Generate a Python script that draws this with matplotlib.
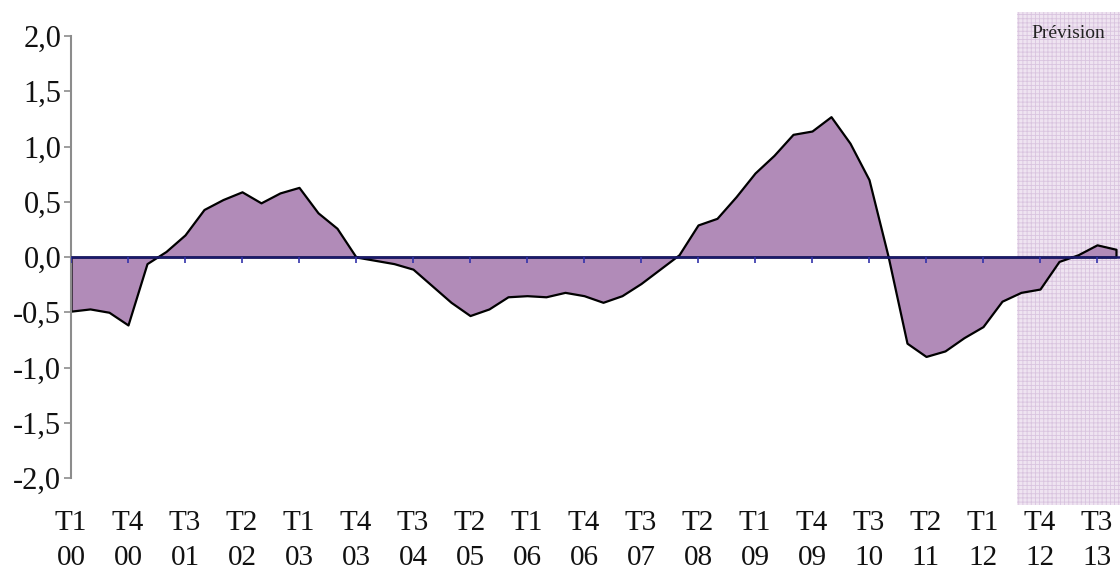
import matplotlib
matplotlib.use("Agg")
import matplotlib.pyplot as plt
from matplotlib.patches import Rectangle
import numpy as np

plt.rcParams['font.family'] = ['Liberation Serif', 'DejaVu Serif']
plt.rcParams['hatch.linewidth'] = 0.6

values = [-0.49, -0.47, -0.50, -0.615, -0.06, 0.05, 0.20, 0.43, 0.52, 0.59,
          0.49, 0.58, 0.63, 0.40, 0.26, 0.0, -0.03, -0.06, -0.11, -0.26,
          -0.41, -0.53, -0.47, -0.36, -0.35, -0.36, -0.32, -0.35, -0.41, -0.35,
          -0.24, -0.11, 0.02, 0.29, 0.35, 0.545, 0.76, 0.92, 1.11, 1.14,
          1.27, 1.03, 0.70, 0.01, -0.78, -0.90, -0.85, -0.73, -0.63, -0.40,
          -0.32, -0.29, -0.04, 0.02, 0.11, 0.07]
tick_labels = ["T1\n00", "T4\n00", "T3\n01", "T2\n02", "T1\n03", "T4\n03", "T3\n04",
               "T2\n05", "T1\n06", "T4\n06", "T3\n07", "T2\n08", "T1\n09", "T4\n09",
               "T3\n10", "T2\n11", "T1\n12", "T4\n12", "T3\n13"]
y_ticks = [-2.0, -1.5, -1.0, -0.5, 0.0, 0.5, 1.0, 1.5, 2.0]
forecast_start = 49.8
forecast_label = "Prévision"

x = np.arange(len(values))
tick_pos = np.arange(0, len(values), 3)[:len(tick_labels)]

W, H = 1120, 569
fig = plt.figure(figsize=(W / 100, H / 100), dpi=100)
ax = fig.add_axes([71 / W, (H - 478) / H, (W - 71) / W, 442 / H])
xmax = (W - 71) / 19.0
ax.set_xlim(0, xmax)
ax.set_ylim(-2, 2)

# forecast shading (extends beyond axes)
rect = Rectangle((forecast_start, -2.244), xmax - forecast_start, 2.217 + 2.244,
                 facecolor='#efe4f1', edgecolor='#d9c4df', hatch='++++', linewidth=0,
                 clip_on=False, zorder=0)
ax.add_patch(rect)
ax.text((forecast_start + xmax) / 2, 2.02, forecast_label, ha='center', va='center',
        fontsize=14, color='#222222', zorder=1)

ax.fill_between(x, values, 0, facecolor='#b18bb8', edgecolor='black', linewidth=1.6,
                zorder=2)
ax.axhline(0, color='#1a1a6e', linewidth=1.8, zorder=3)
ax.vlines(tick_pos, -0.055, 0, color='#3333aa', linewidth=1.2, zorder=3)

for s in ['top', 'right', 'bottom']:
    ax.spines[s].set_visible(False)
ax.spines['left'].set_color('#8c8c8c')
ax.spines['left'].set_linewidth(1.5)

ax.set_yticks(y_ticks)
ax.set_yticklabels([f"{v:.1f}".replace('.', ',') for v in y_ticks], fontsize=22)
ax.tick_params(axis='y', colors='#8c8c8c', labelcolor='#111111', length=5, width=1.2, pad=2)

ax.set_xticks(tick_pos)
ax.set_xticklabels(tick_labels, fontsize=21, linespacing=1.44, color='#111111')
ax.tick_params(axis='x', length=0, pad=23)

fig.savefig("out.png", dpi=100, facecolor='white')
